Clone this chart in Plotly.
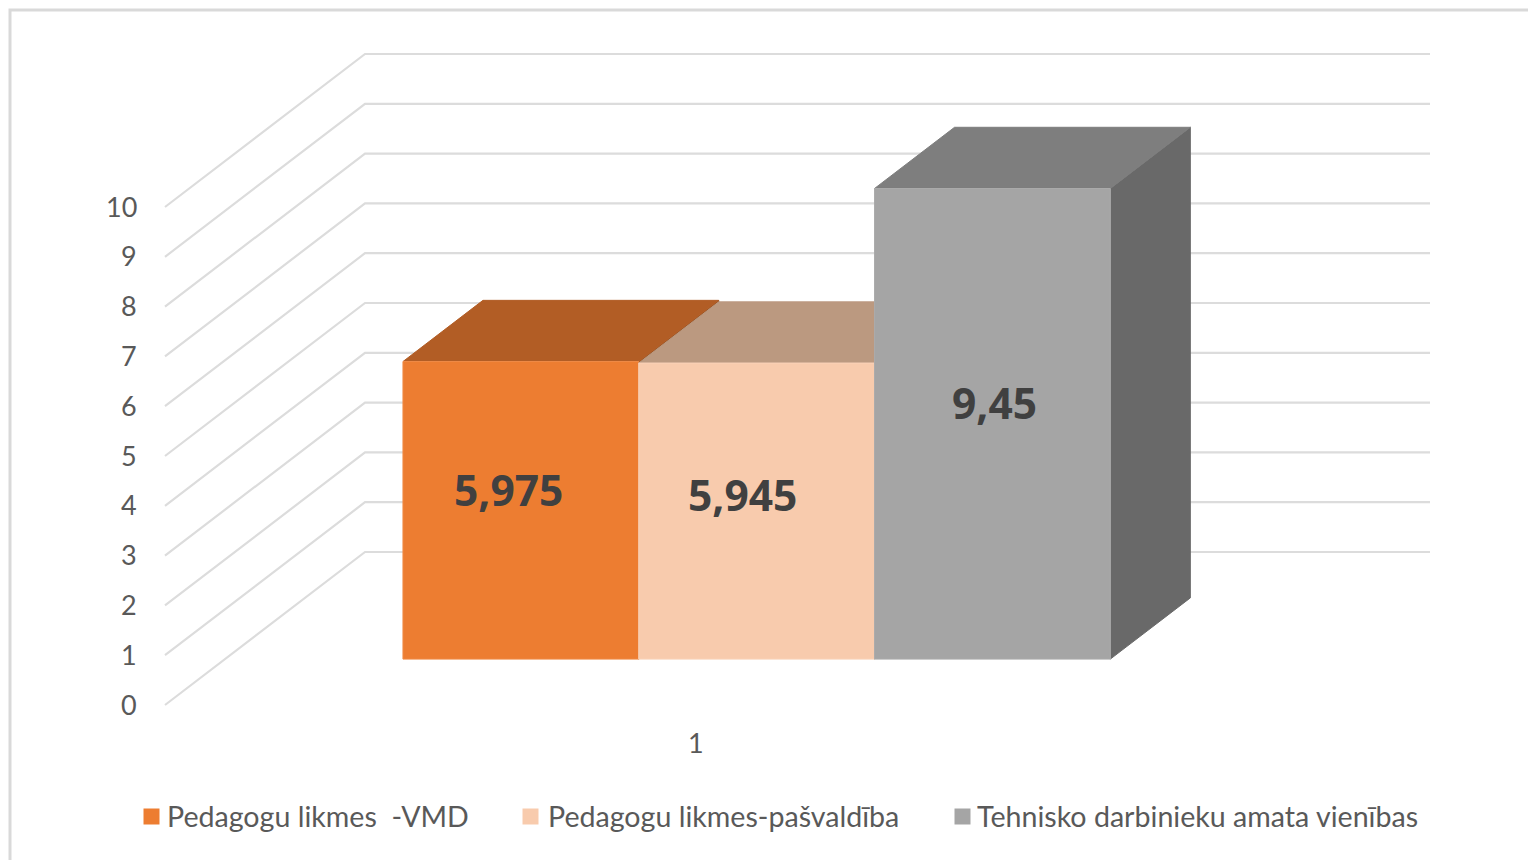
import plotly.graph_objects as go

# ---- data ----
series_names = ["Pedagogu likmes\u00a0\u00a0-VMD", "Pedagogu likmes-pašvaldība", "Tehnisko darbinieku amata vienības"]
series_values = [5.975, 5.945, 9.45]
value_labels = ["5,975", "5,945", "9,45"]
category_labels = ["1"]
y_ticks = [0, 1, 2, 3, 4, 5, 6, 7, 8, 9, 10]

# ---- styles ----
front_colors = ["#ED7D31", "#F8CBAD", "#A5A5A5"]
top_colors = ["#B25D25", "#BB9980", "#7E7E7E"]
side_colors = ["#8E4B1D", "#95796A", "#696969"]
edge_colors = ["#F08B47", "#F9D2B8", "#ABABAB"]
label_nudges = [(-12, -21), (-14, -17), (2, -21)]
legend_swatch_x = [151.5, 530.5, 962.5]
legend_text_x = [166, 547, 976]
GRID = "#DCDCDC"
TEXT = "#595959"
FONT = "Lato"
LABEL_FONT = "Open Sans"

# ---- oblique projection of the 3-D chart box onto the page ----
ORIGIN_X, ORIGIN_Y = 165.0, 705.0
WIDTH = 1065.0
UNIT = 49.8
DEPTH_X, DEPTH_Y = 200.0, -153.0


def project(c, v, d):
    """c: 0..1 along category axis, v: value, d: 0..1 into the chart."""
    return ORIGIN_X + c * WIDTH + d * DEPTH_X, ORIGIN_Y - v * UNIT + d * DEPTH_Y


def poly(points):
    xy = [project(*p) for p in points]
    xy.append(xy[0])
    return [p[0] for p in xy], [p[1] for p in xy]


fig = go.Figure()

# chart frame (cropped at the right and bottom of the picture)
fig.add_trace(go.Scatter(x=[10, 10, 1528], y=[860, 10, 10], mode="lines",
                         line=dict(color="#D9D9D9", width=3), hoverinfo="skip"))

# side-wall and back-wall gridlines
for t in y_ticks:
    pts = [project(0, t, 0), project(0, t, 1), project(1, t, 1)]
    fig.add_trace(go.Scatter(x=[p[0] for p in pts], y=[p[1] for p in pts], mode="lines",
                             line=dict(color=GRID, width=2.2), hoverinfo="skip"))

# bars
bar_w = 0.2214
gap = 0.1671
D0, D1 = 0.3, 0.7
for i, v in enumerate(series_values):
    c0 = gap + i * bar_w
    c1 = c0 + bar_w
    faces = [
        ([(c1, 0, D0), (c1, 0, D1), (c1, v, D1), (c1, v, D0)], side_colors[i], side_colors[i]),
        ([(c0, v, D0), (c1, v, D0), (c1, v, D1), (c0, v, D1)], top_colors[i], top_colors[i]),
        ([(c0, 0, D0), (c1, 0, D0), (c1, v, D0), (c0, v, D0)], front_colors[i], edge_colors[i]),
    ]
    for pts, col, edge in faces:
        xs, ys = poly(pts)
        fig.add_trace(go.Scatter(x=xs, y=ys, mode="lines", fill="toself", fillcolor=col,
                                 line=dict(color=edge, width=1), hoverinfo="skip"))

annotations = []


def add_text(x, y, text, size, anchor="center", bold=False, color=TEXT, family=FONT):
    annotations.append(dict(x=x, y=y, xref="x", yref="y", text=f"<b>{text}</b>" if bold else text,
                            showarrow=False, xanchor=anchor, yanchor="middle", borderpad=0,
                            font=dict(family=family, size=size, color=color)))


# value axis labels
for t in y_ticks:
    x, y = project(0, t, 0)
    add_text(x - 27, y - 1, str(t), 27, anchor="right")

# category label
add_text(ORIGIN_X + 0.5 * WIDTH - 2, 742, category_labels[0], 27)

# data labels
for i, v in enumerate(series_values):
    c = gap + (i + 0.5) * bar_w
    x, y = project(c, v / 2, D0)
    add_text(x + label_nudges[i][0], y + label_nudges[i][1], value_labels[i], 42.5, bold=True,
             color="#404040", family=LABEL_FONT)

# legend
for i, name in enumerate(series_names):
    fig.add_trace(go.Scatter(x=[legend_swatch_x[i]], y=[816.5], mode="markers",
                             marker=dict(symbol="square", size=16, color=front_colors[i]), hoverinfo="skip"))
    add_text(legend_text_x[i], 815.5, name, 28.6, anchor="left")

fig.update_layout(
    width=1528, height=860, margin=dict(l=0, r=0, t=0, b=0),
    paper_bgcolor="white", plot_bgcolor="white", showlegend=False,
    xaxis=dict(range=[0, 1528], visible=False, fixedrange=True),
    yaxis=dict(range=[860, 0], visible=False, fixedrange=True),
    annotations=annotations,
)
fig.write_html("out.html", config={"displayModeBar": False},
               post_script="document.body.style.margin='0';document.body.style.overflow='hidden';")
